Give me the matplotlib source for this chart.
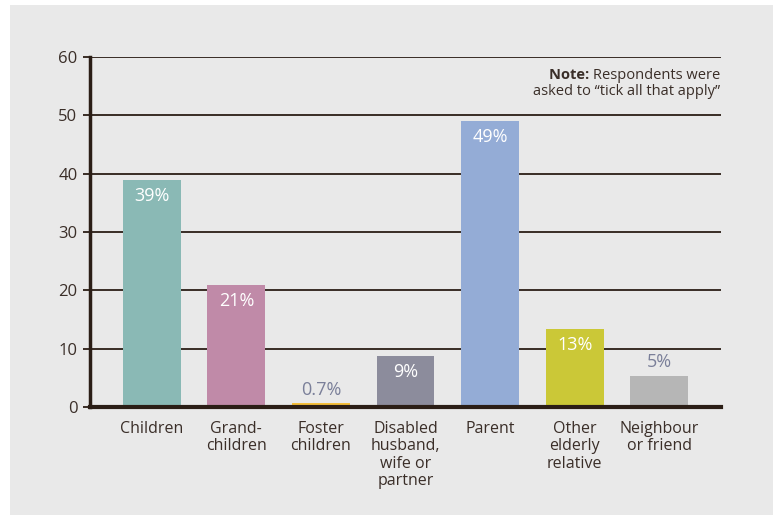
import matplotlib.pyplot as plt
from matplotlib.patches import Rectangle

# data
categories = ["Children", "Grand-\nchildren", "Foster\nchildren", "Disabled\nhusband,\nwife or\npartner",
              "Parent", "Other\nelderly\nrelative", "Neighbour\nor friend"]
values = [38.9, 20.9, 0.7, 8.7, 49.0, 13.4, 5.4]
labels = ["39%", "21%", "0.7%", "9%", "49%", "13%", "5%"]
colors = ["#8ab9b5", "#c08aa8", "#f5bf3b", "#8c8c9c", "#94acd6", "#cbc837", "#b6b6b6"]
inside = [True, True, False, True, True, True, False]

plt.rcParams['font.family'] = ['Open Sans', 'DejaVu Sans']
dark = "#2b1e16"
txt = "#3a2e28"

fig = plt.figure(figsize=(7.74, 5.15), dpi=100)
fig.patch.set_facecolor("white")
# grey panel behind everything
fig.add_artist(Rectangle((10 / 774, 0), 763 / 774, 1 - 5 / 515, transform=fig.transFigure,
                         facecolor="#e9e9e9", edgecolor="none", zorder=-10))

ax = fig.add_axes([90 / 774, 1 - 407 / 515, (721 - 90) / 774, (407 - 57) / 515])
ax.set_zorder(5)
ax.set_facecolor("none")

x = list(range(len(categories)))
ax.bar(x, values, width=0.685, color=colors, zorder=2)

for i, (v, lab) in enumerate(zip(values, labels)):
    if inside[i]:
        ax.text(i, v - 1.2, lab, ha="center", va="top", color="white", fontsize=13, zorder=3)
    else:
        ax.text(i, v + 0.7, lab, ha="center", va="bottom", color="#7a7f99", fontsize=13, zorder=3)

ax.set_xlim(-0.73, 6.73)
ax.set_ylim(0, 60)
ax.set_yticks(range(0, 61, 10))
ax.yaxis.grid(True, color=dark, linewidth=1.3, zorder=1)
ax.set_axisbelow(True)

ax.set_xticks(x)
ax.set_xticklabels(categories, fontsize=11.5, color=txt, linespacing=1.12)
ax.tick_params(axis="x", length=0, pad=10)
ax.tick_params(axis="y", length=5, width=1.3, color=dark, labelsize=12, labelcolor=txt, pad=4)

for s in ["top", "right"]:
    ax.spines[s].set_visible(False)
ax.spines["left"].set_linewidth(2.5)
ax.spines["left"].set_color(dark)
ax.spines["bottom"].set_linewidth(3)
ax.spines["bottom"].set_color(dark)
ax.spines["bottom"].set_zorder(4)

# note in the top right corner
t1 = ax.text(0.999, 0.948, "Respondents were", transform=ax.transAxes, ha="right", va="center",
             fontsize=10.5, color=txt)
ax.annotate("Note: ", xy=(0, 0.5), xycoords=t1, ha="right", va="center",
            fontsize=10.5, fontweight="bold", color=txt)
ax.text(0.999, 0.902, "asked to \u201ctick all that apply\u201d", transform=ax.transAxes, ha="right", va="center",
        fontsize=10.5, color=txt)

fig.savefig("out.png", dpi=100)
